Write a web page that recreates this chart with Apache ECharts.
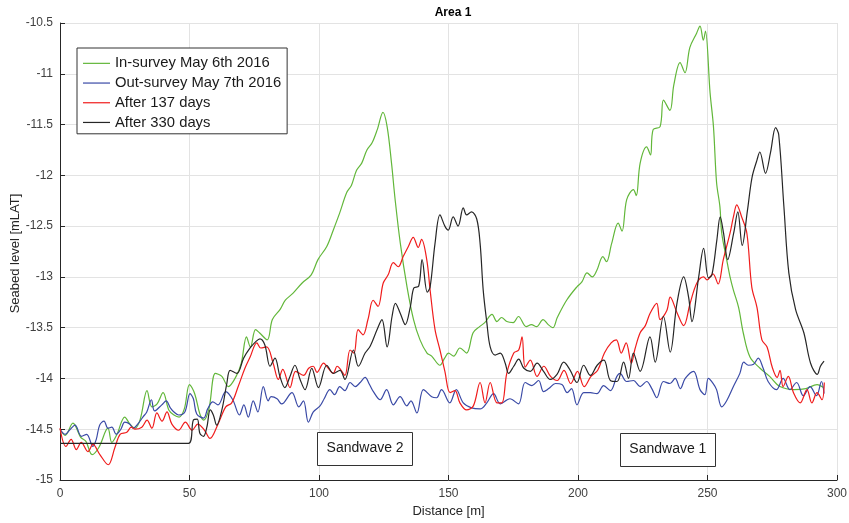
<!DOCTYPE html>
<html><head><meta charset="utf-8">
<script src="https://cdn.jsdelivr.net/npm/echarts@6/dist/echarts.min.js"></script>
<style>html,body{margin:0;padding:0;background:#fff}#c{width:849px;height:523px}</style>
</head><body><div id="c"></div>
<script>
// ---- Data ----
const seriesNames = ['In-survey May 6th 2016','Out-survey May 7th 2016','After 137 days','After 330 days'];
const xTicks = [0,50,100,150,200,250,300];
const yTicks = [-15,-14.5,-14,-13.5,-13,-12.5,-12,-11.5,-11,-10.5];
const yAxisTitle = 'Seabed level [mLAT]';

const greenX = [0,2,5,8,10,12.4,15,18.5,20,22,25,27,29,31,33.6,35.5,37.5,39.8,42,44,46,48,50,52,54,55.5,57.5,60,62.5,65,68,70,72,73.5,75.5,77,80,82,85,87,90,93.5,97,99.6,103,105.5,108,110.7,112.5,114.5,116.5,118.5,120.5,122.5,124.7,126.3,128,129.4,131.4,134,136.5,139,141.7,143.5,146.7,148.5,150,152,154.4,157,159.5,162,164,166.8,168.7,170.5,172.5,175,177,180,182,184,186.5,188.5,190.3,192,195.6,199.5,201.5,203.5,205.5,207.2,209.6,211,213,215.5,217,218.8,221.4,222.5,224,226.5,228,229,231.7,233,235.5,237,239.4,241.3,243.2,245.8,247.1,248.4,249.2,251,252.3,253.5,254.8,255.5,257.4,258.7,260,262,263.8,266.4,270.3,274,278,283.4,288,292.3,294.8];
const greenY = [-14.50,-14.56,-14.44,-14.58,-14.62,-14.75,-14.68,-14.49,-14.63,-14.55,-14.38,-14.45,-14.49,-14.40,-14.12,-14.28,-14.25,-14.14,-14.31,-14.36,-14.38,-14.30,-14.06,-14.15,-14.35,-14.41,-14.30,-13.95,-13.98,-14.08,-13.98,-13.85,-13.59,-13.69,-13.52,-13.55,-13.62,-13.42,-13.32,-13.23,-13.16,-13.06,-12.98,-12.83,-12.70,-12.54,-12.37,-12.17,-12.10,-11.95,-11.88,-11.75,-11.68,-11.55,-11.38,-11.52,-11.88,-12.24,-12.67,-13.10,-13.42,-13.62,-13.75,-13.78,-13.87,-13.80,-13.75,-13.78,-13.70,-13.75,-13.55,-13.49,-13.45,-13.37,-13.44,-13.40,-13.44,-13.45,-13.39,-13.49,-13.47,-13.49,-13.42,-13.47,-13.50,-13.40,-13.23,-13.10,-13.05,-12.96,-13.00,-12.94,-12.80,-12.85,-12.67,-12.47,-12.55,-12.24,-12.14,-12.20,-11.88,-11.72,-11.80,-11.55,-11.52,-11.26,-11.36,-11.11,-10.89,-10.99,-10.74,-10.60,-10.53,-10.67,-10.58,-11.19,-11.52,-12.07,-12.31,-12.57,-12.83,-13.00,-13.13,-13.30,-13.55,-13.79,-13.90,-13.98,-14.08,-14.11,-14.10,-14.06,-14.09];

const blueX = [0,2,4,5.8,8.3,10.3,12.7,14,15.3,17,18.5,20,21.7,23.5,25,27,28.2,30,32,33.5,35.3,36.5,39.3,41,42.6,44,45.8,48.2,50.2,51.5,52.8,55.5,57,59,61,64,66.7,69.3,71,72.7,74.6,76.4,78.5,80.4,81.5,83.8,85.5,86.4,89.6,92.2,94,95.9,97.8,100.4,102,104.2,106,108,110,112,114,115.9,117.8,119.5,121,123.6,126.1,128.7,131.3,133.9,135.5,137.8,140.3,143.5,145.4,147.3,150.5,153,155.7,158.9,162.2,164.8,167.4,170,173.7,177,179.6,182.2,184.8,186.7,188.7,191.3,193.8,195.8,197.5,199.6,202.2,204.8,207.3,209.9,212.5,215,216.2,218.8,221.4,224,226.5,228.5,230.4,233,235.5,237.5,239.5,241.4,244.6,247.1,249,250.3,252.2,253.5,255.5,257.4,260,262.5,264,265.8,267.8,269.6,271.5,273.4,276.6,279.2,281.8,284.4,287,289.6,292.1,294,295];
const blueY = [-14.50,-14.55,-14.50,-14.46,-14.57,-14.55,-14.67,-14.60,-14.46,-14.42,-14.49,-14.48,-14.55,-14.50,-14.43,-14.45,-14.49,-14.45,-14.38,-14.33,-14.21,-14.32,-14.26,-14.22,-14.29,-14.33,-14.36,-14.33,-14.15,-14.20,-14.35,-14.39,-14.30,-14.23,-14.26,-14.13,-14.21,-14.36,-14.26,-14.38,-14.22,-14.33,-14.08,-14.22,-14.18,-14.20,-14.25,-14.24,-14.14,-14.28,-14.22,-14.43,-14.33,-14.27,-14.20,-14.11,-14.16,-14.08,-14.12,-14.04,-14.08,-14.04,-13.99,-14.06,-14.13,-14.21,-14.11,-14.26,-14.18,-14.27,-14.22,-14.34,-14.11,-14.18,-14.19,-14.11,-14.24,-14.11,-14.24,-14.29,-14.30,-14.24,-14.15,-14.25,-14.20,-14.25,-14.04,-14.07,-14.02,-14.13,-14.10,-14.05,-14.06,-14.14,-14.10,-14.26,-14.14,-14.14,-14.15,-14.07,-14.12,-13.98,-13.95,-14.03,-14.02,-14.08,-14.03,-14.10,-14.19,-14.03,-14.05,-14.00,-14.10,-14.00,-13.93,-14.11,-14.16,-14.00,-14.05,-14.11,-14.28,-14.22,-14.08,-13.95,-13.84,-13.87,-13.86,-13.80,-13.90,-14.03,-14.11,-14.00,-14.11,-14.04,-14.17,-14.08,-14.17,-14.03,-14.15];

const redX = [0,2.3,4.3,6.3,8.2,10.8,12.7,15.4,18.6,21.2,23.2,25.8,27.5,29,31.6,33.6,35.5,37.4,39.4,41.3,43.2,45.8,48.4,51,53.2,55.8,57.9,61,64,66.3,68.8,71.4,73.4,76,77.5,79.8,82.3,84.3,86,88.8,91,94,96,97.8,99.2,101.8,103,105.5,107,108,110,112,113.5,115.1,117,118.9,120.9,122.8,124.8,126.7,128.7,130.6,132.5,134.5,136.4,138.3,139.6,141.6,142.9,144.8,146.7,148.6,150.6,152.5,154.4,157,159.6,162.2,164.1,166.1,168.7,170.6,172.5,175.2,177.1,178.4,179.6,181.6,184.2,186.8,189.4,192,194.6,197.2,199.8,202.4,205,207.6,210.2,212.8,214.8,216.7,218.6,220.6,222,224,226,227.8,230.4,231.7,234.3,235.6,238.2,240.8,243.3,245.9,248.5,249.8,252.1,254.1,256.1,258.7,260,261.3,263.2,265.2,267.1,269.1,271,273,275,276.9,278,279.2,281.2,283.2,285.8,288.4,290.3,292.3,294.2,295.1];
const redY = [-14.49,-14.67,-14.60,-14.70,-14.63,-14.72,-14.65,-14.75,-14.85,-14.68,-14.55,-14.53,-14.48,-14.50,-14.48,-14.41,-14.49,-14.34,-14.42,-14.33,-14.45,-14.51,-14.43,-14.51,-14.45,-14.51,-14.59,-14.45,-14.28,-14.24,-14.08,-13.90,-13.79,-13.65,-13.70,-13.69,-13.85,-14.01,-13.91,-14.09,-13.93,-13.97,-13.90,-13.88,-13.94,-13.85,-13.88,-13.95,-13.88,-13.90,-13.97,-13.72,-13.75,-13.52,-13.57,-13.42,-13.23,-13.29,-13.06,-12.98,-12.86,-12.90,-12.80,-12.70,-12.61,-12.71,-12.63,-12.83,-13.13,-13.52,-13.72,-13.93,-14.14,-14.12,-14.24,-14.31,-14.27,-14.04,-14.24,-14.04,-14.24,-14.24,-13.95,-13.75,-13.72,-13.59,-13.89,-13.82,-13.98,-13.88,-13.98,-14.02,-13.92,-14.05,-13.93,-14.08,-13.98,-13.92,-13.75,-13.65,-13.62,-13.75,-13.65,-13.85,-13.71,-13.55,-13.48,-13.36,-13.26,-13.42,-13.33,-13.20,-13.35,-13.48,-13.26,-13.06,-13.00,-13.03,-12.97,-13.07,-12.83,-12.57,-12.41,-12.29,-12.41,-12.57,-13.10,-13.30,-13.62,-13.69,-13.89,-13.99,-13.92,-14.08,-13.98,-14.14,-14.24,-14.11,-14.24,-14.14,-14.21,-14.04];

const blackX = [0,49.6,51.5,53,54,55.4,56.7,58,59.2,60.5,62.5,64.4,65.7,68.3,70.9,73.4,75.5,77.2,79.1,81.1,83,84.9,86.8,88.8,90.7,92.7,94.6,97.2,99.8,103,105.6,108.1,110,113.3,115.2,117.8,119.8,122.4,124.3,126.3,128.2,129.5,131.4,133.3,135.3,136.6,138.5,139.8,141.8,142.9,144.8,146.7,148.6,149.9,151.8,153.7,155.7,157,158.9,160.9,162.2,163.4,164.8,166.1,168,170,171.9,173.2,175.2,177.1,179.1,181.6,184.2,186.7,189.3,191.9,194.5,197,199.6,202.2,204.8,207.4,210,212.5,215.1,217.6,219.5,221.4,224,227.8,229.8,233,235.6,238.2,240.8,242.7,244,246.6,248.5,250.4,251.7,253.6,254.9,256.2,257.8,260.1,261.7,263.4,265.4,267.2,269.1,270.2,272.4,274.3,276.3,277.5,279.5,281.4,284,287.2,289.8,292.4,293.6,295];
const blackY = [-14.64,-14.64,-14.41,-14.40,-14.54,-14.57,-14.48,-14.31,-14.36,-14.46,-14.31,-14.05,-13.92,-13.95,-13.80,-13.70,-13.64,-13.61,-13.67,-13.88,-13.80,-13.98,-14.09,-13.98,-13.87,-14.01,-14.11,-13.90,-14.09,-13.87,-13.95,-13.92,-14.01,-13.72,-13.88,-13.75,-13.68,-13.52,-13.42,-13.69,-13.39,-13.26,-13.36,-13.47,-13.29,-13.11,-13.09,-12.83,-13.15,-13.10,-12.67,-12.39,-12.50,-12.54,-12.41,-12.50,-12.32,-12.39,-12.36,-12.43,-12.67,-13.13,-13.45,-13.69,-13.77,-13.75,-13.85,-13.95,-13.88,-13.81,-13.90,-13.93,-13.85,-13.93,-14.01,-13.96,-13.84,-13.92,-14.04,-13.87,-13.97,-13.87,-13.82,-14.02,-14.03,-13.84,-14.00,-13.75,-13.93,-13.59,-13.84,-13.39,-13.74,-13.26,-13.00,-13.20,-13.44,-13.00,-12.72,-13.01,-12.98,-12.64,-12.41,-12.57,-12.83,-12.57,-12.36,-12.69,-12.35,-12.02,-11.85,-11.77,-11.98,-11.78,-11.53,-11.60,-12.31,-12.96,-13.32,-13.55,-13.85,-13.96,-13.88,-13.83];

const annotations = [{text:'Sandwave 2', x:117.8, y:-14.69},{text:'Sandwave 1', x:234.7, y:-14.70}];

// ---- Chart ----
const zip = (xs, ys) => xs.map((x, i) => [x, ys[i]]);
const colors = ['#62b73a','#3a4aa6','#f01c1c','#262626'];
const FONT = 'Liberation Sans, Arial, Helvetica, sans-serif';
const chart = echarts.init(document.getElementById('c'), null, {renderer:'canvas'});
const dataSets = [zip(greenX,greenY), zip(blueX,blueY), zip(redX,redY), zip(blackX,blackY)];

chart.setOption({
  animation:false,
  backgroundColor:'#fff',
  title:{text:'Area 1', left:448, top:2, textAlign:'center',
    textStyle:{fontFamily:FONT, fontSize:12, fontWeight:'bold', color:'#000'}},
  grid:{left:60, right:12, top:23, bottom:43, containLabel:false, outerBoundsMode:'none'},
  legend:{
    orient:'vertical', left:77, top:48,
    backgroundColor:'#fff', borderColor:'#333', borderWidth:1,
    padding:[7,6,3,6], itemGap:3, itemWidth:27, itemHeight:16.7,
    textStyle:{fontFamily:FONT, fontSize:14.8, lineHeight:16.7, color:'#1a1a1a'},
    data:seriesNames.map((n,i)=>({name:n, icon:'path://M0,0L27,0L27,1.2L0,1.2Z'}))
  },
  xAxis:{type:'value', min:xTicks[0], max:xTicks[xTicks.length-1], interval:50,
    name:'Distance [m]', nameLocation:'middle', nameGap:25,
    nameTextStyle:{fontFamily:FONT, fontSize:13, color:'#262626'},
    axisLine:{show:true, lineStyle:{color:'#262626', width:1}},
    axisTick:{show:true, inside:true, length:5, lineStyle:{color:'#262626'}},
    axisLabel:{fontFamily:FONT, fontSize:12, color:'#404040', margin:8},
    splitLine:{show:true, lineStyle:{color:'#e3e3e3', width:1}}},
  yAxis:{type:'value', min:yTicks[0], max:yTicks[yTicks.length-1], interval:0.5,
    axisLine:{show:true, lineStyle:{color:'#262626', width:1}},
    axisTick:{show:true, inside:true, length:5, lineStyle:{color:'#262626'}},
    axisLabel:{fontFamily:FONT, fontSize:12, color:'#404040', margin:7,
      formatter:v=>String(v)},
    splitLine:{show:true, lineStyle:{color:'#e3e3e3', width:1}}},
  series:seriesNames.map((n,i)=>({
    name:n, type:'line', data:dataSets[i], showSymbol:false, symbol:'none',
    smooth:0.35, color:colors[i],
    lineStyle:{color:colors[i], width:1.2}
  }))
});

// annotation boxes placed via data coordinates; y-axis title beside the axis
const g = [];
annotations.forEach(a=>{
  const p = chart.convertToPixel({gridIndex:0}, [a.x, a.y]);
  g.push({type:'rect', shape:{x:Math.round(p[0]-48)+0.5, y:Math.round(p[1]-17)+0.5, width:95, height:33},
    style:{fill:'#fff', stroke:'#333', lineWidth:1}, z:10});
  g.push({type:'text', x:p[0], y:p[1], style:{text:a.text, fontFamily:FONT, fontSize:14, fill:'#1a1a1a',
    textAlign:'center', textVerticalAlign:'middle'}, z:11});
});
const yTopPx = chart.convertToPixel({yAxisIndex:0}, yTicks[yTicks.length-1]);
const yBotPx = chart.convertToPixel({yAxisIndex:0}, yTicks[0]);
g.push({type:'text', x:15, y:(yTopPx+yBotPx)/2 + 2, rotation:Math.PI/2,
  style:{text:yAxisTitle, fontFamily:FONT, fontSize:13, fill:'#262626', textAlign:'center', textVerticalAlign:'middle'}});
chart.setOption({graphic:g});
</script></body></html>
